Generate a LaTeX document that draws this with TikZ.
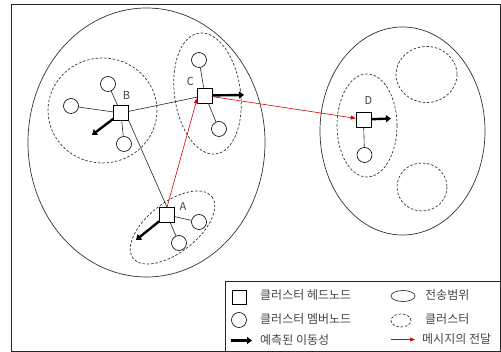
\documentclass[tikz,border=0pt]{standalone}
\usepackage{fontspec}
\setmainfont{Noto Sans CJK KR}
\usetikzlibrary{arrows.meta,calc,shapes.geometric}
\tikzset{
  headnode/.style={draw, fill=white, minimum size=15pt, inner sep=0pt, line width=0.6pt},
  membernode/.style={draw, fill=white, circle, minimum size=15pt, inner sep=0pt, line width=0.6pt},
  txrange/.style={draw=black!80, line width=0.7pt},
  clusterline/.style={draw=black!80, line width=0.7pt, dash pattern=on 2.5pt off 1.8pt},
  linkline/.style={draw=black!85, line width=0.6pt},
  movearrow/.style={line width=2.4pt, -{Triangle[length=5pt,width=7pt]}},
  msgarrow/.style={red!85!black, line width=0.6pt, -{Triangle[length=5pt,width=4pt]}},
  headlabel/.style={font=\fontsize{11}{12}\selectfont, text=black!75, inner sep=0pt},
  legtext/.style={font=\fontsize{12}{14}\selectfont, text=black!72, anchor=west, inner sep=0pt}
}
\begin{document}
\begin{tikzpicture}[x=1pt,y=-1pt]
\useasboundingbox (0,0) rectangle (501,352);
% outer frame
\draw[black!85, line width=0.9pt] (11,4) rectangle (500,351);

% transmission ranges
\draw[txrange] (146.5,142.5) ellipse (118.5 and 134.5);
\draw[txrange] (402.5,131) ellipse (82.5 and 104);

% clusters
\draw[clusterline] (102.5,110.5) ellipse (54.5 and 52.5);
\draw[clusterline, rotate around={8:(207.5,93.5)}] (207.5,93.5) ellipse (33 and 61);
\draw[clusterline, rotate around={38:(172.5,227.5)}] (172.5,227.5) ellipse (50 and 25);
\draw[clusterline] (367,125.5) ellipse (30 and 51.5);
\draw[clusterline] (426.5,74.5) ellipse (30.5 and 28);
\draw[clusterline] (422,187) ellipse (25 and 24);

% cluster heads
\node[headnode] (B) at (121,113) {};
\node[headnode] (C) at (205,95.5) {};
\node[headnode] (A) at (167,215) {};
\node[headnode] (D) at (363.5,119.5) {};

% cluster members
\node[membernode] (b1) at (108,84) {};
\node[membernode] (b2) at (71,106) {};
\node[membernode] (b3) at (124,144) {};
\node[membernode] (c1) at (199,60) {};
\node[membernode] (c2) at (219,129) {};
\node[membernode] (a1) at (199,222) {};
\node[membernode] (a2) at (179,243) {};
\node[membernode] (d1) at (364.5,155) {};

% head labels
\node[headlabel] (lB) at (126.5,95.5) {B};
\node[headlabel] (lC) at (190.5,81) {C};
\node[headlabel] (lA) at (183,206) {A};
\node[headlabel] (lD) at (368.5,100.5) {D};

% links
\draw[linkline] (B) -- (b1);
\draw[linkline] (B) -- (b2);
\draw[linkline] (B) -- (b3);
\draw[linkline] (C) -- (c1);
\draw[linkline] (C) -- (c2);
\draw[linkline] (A) -- (a1);
\draw[linkline] (A) -- (a2);
\draw[linkline] (D) -- (d1);
\draw[linkline] (B) -- (C);
\draw[linkline] (B.south east) -- (A.north);

% predicted movement
\coordinate (mB) at (92,135);
\coordinate (mC) at (244,95);
\coordinate (mA) at (136,240);
\coordinate (mD) at (391,118.5);
\draw[movearrow] (B) -- (mB);
\draw[movearrow] (C) -- (mC);
\draw[movearrow] (A) -- (mA);
\draw[movearrow] (D) -- (mD);

% message forwarding
\draw[msgarrow] (A.north) -- (C.200);
\draw[msgarrow] (C) -- (D);

% legend
\draw[black!85, line width=0.8pt, fill=white] (225,281) rectangle (500,351);
\node[headnode, minimum size=14pt] (kh) at (239,297) {};
\node[legtext] (th) at (260,295) {클러스터 헤드노드};
\node[membernode] (km) at (239,320) {};
\node[legtext] (tm) at (260,319) {클러스터 멤버노드};
\coordinate (ks) at (231,340.5);
\coordinate (ke) at (252,340.5);
\draw[movearrow, line width=2.2pt] (ks) -- (ke);
\node[legtext] (tv) at (260,340) {예측된 이동성};
\node[txrange, ellipse, minimum width=24pt, minimum height=11pt, inner sep=0pt] (kr) at (403,296) {};
\node[legtext] (tr) at (425,295) {전송범위};
\node[clusterline, ellipse, minimum width=20pt, minimum height=13pt, inner sep=0pt] (kc) at (401,320.5) {};
\node[legtext] (tc) at (425,319) {클러스터};
\coordinate (ms) at (391,339.5);
\coordinate (me) at (415,339.5);
\draw[msgarrow] (ms) -- (me);
\node[legtext] (tg) at (422,339.5) {메시지의 전달};
\end{tikzpicture}
\end{document}
